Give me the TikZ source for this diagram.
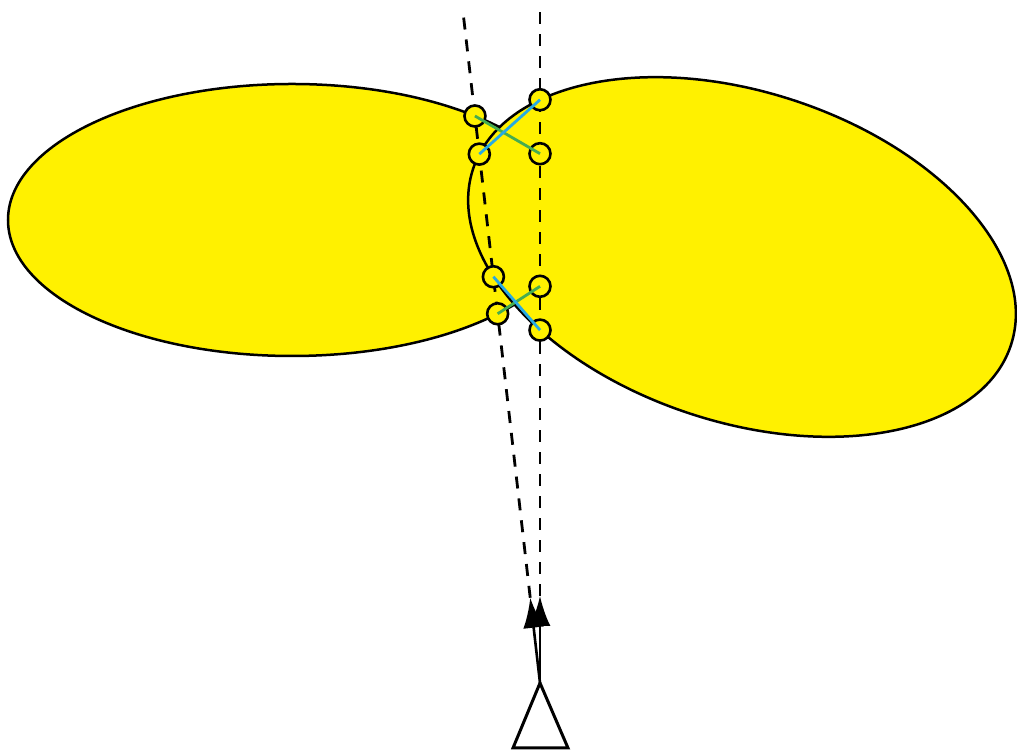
\documentclass[tikz,border=0pt]{standalone}
\usetikzlibrary{arrows.meta,intersections,calc}

\definecolor{lobeyellow}{RGB}{255,241,0}
\definecolor{pairgreen}{RGB}{70,172,80}
\definecolor{pairblue}{RGB}{40,170,226}

\tikzset{
  lobe/.style={draw=black, fill=lobeyellow, line width=2.5pt},
  beam/.style={line width=2.8pt, dash pattern=on 12pt off 10pt},
  ping/.style={circle, draw=black, fill=lobeyellow, line width=2.6pt, minimum size=21pt, inner sep=0pt},
  pairline/.style={line width=2.8pt},
  tipline/.style={line width=2.6pt, -{Latex[length=30pt, width=21pt]}}
}

\begin{document}
\begin{tikzpicture}[x=1pt, y=1pt]
    \useasboundingbox (0,0) rectangle (1017,754);

    % Two yellow lobes
    \draw[lobe, name path=leftlobe] (292,534) ellipse [x radius=284, y radius=136];
    \draw[lobe, name path=rightlobe, rotate around={-18.1:(742,497)}] (742,497) ellipse [x radius=283, y radius=165];

    % Beam end points
    \coordinate (apex) at (540,71);
    \coordinate (lefttop) at (463,742);
    \coordinate (righttop) at (540,749);
    \coordinate (lefttip) at ($(apex)!0.127!(lefttop)$);
    \coordinate (righttip) at (540,158);

    % Dashed beams
    \draw[beam, name path=leftbeam] (lefttip) -- (lefttop);
    \draw[beam, name path=rightbeam] (righttip) -- (righttop);

    % Arrows out of the antenna
    \draw[tipline] (apex) -- (lefttip);
    \draw[tipline] (apex) -- (righttip);

    % Antenna
    \draw[line width=3pt, line join=miter] (513,6) -- (apex) -- (568,6) -- cycle;

    % Crossing points
    \path[name intersections={of=leftlobe and leftbeam, sort by=leftbeam, by={ll-lo,ll-hi}}];
    \path[name intersections={of=leftlobe and rightbeam, sort by=rightbeam, by={lr-lo,lr-hi}}];
    \path[name intersections={of=rightlobe and leftbeam, sort by=leftbeam, by={rl-lo,rl-hi}}];
    \path[name intersections={of=rightlobe and rightbeam, sort by=rightbeam, by={rr-lo,rr-hi}}];

    \node[ping] (pll-lo) at (ll-lo) {};
    \node[ping] (pll-hi) at (ll-hi) {};
    \node[ping] (plr-lo) at (lr-lo) {};
    \node[ping] (plr-hi) at (lr-hi) {};
    \node[ping] (prl-lo) at (rl-lo) {};
    \node[ping] (prl-hi) at (rl-hi) {};
    \node[ping] (prr-lo) at (rr-lo) {};
    \node[ping] (prr-hi) at (rr-hi) {};

    % Pairs of crossing points
    \draw[pairline, pairgreen] (pll-hi.center) -- (plr-hi.center);
    \draw[pairline, pairgreen] (pll-lo.center) -- (plr-lo.center);
    \draw[pairline, pairblue] (prl-hi.center) -- (prr-hi.center);
    \draw[pairline, pairblue] (prl-lo.center) -- (prr-lo.center);

  \end{tikzpicture}
\end{document}
